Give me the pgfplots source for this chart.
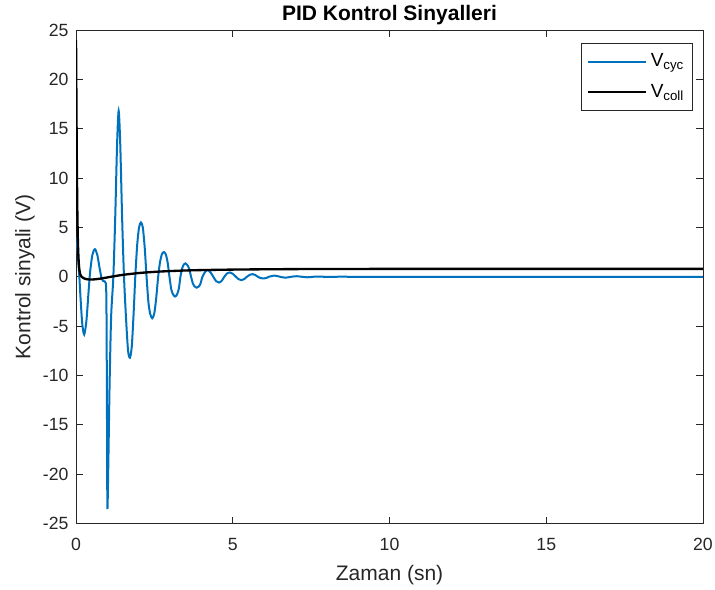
\documentclass[border=0pt]{standalone}
\usepackage{fontspec}
\setmainfont{Liberation Sans}
\usepackage{pgfplots}
\pgfplotsset{compat=1.18}
\usetikzlibrary{calc}
\definecolor{mblue}{rgb}{0,0.447,0.741}
\definecolor{axgray}{rgb}{0.15,0.15,0.15}
\begin{document}
\begin{tikzpicture}
\begin{axis}[
  name=ax,
  scale only axis,
  width=376pt, height=296pt,
  xmin=0, xmax=20, ymin=-25, ymax=25,
  xtick={0,5,10,15,20},
  ytick={-25,-20,...,25},
  tick align=inside,
  major tick length=4pt,
  axis line style={axgray, line width=0.5pt},
  tick style={axgray, line width=0.5pt},
  every tick label/.append style={font=\fontsize{10.6}{12}\selectfont, text=axgray},
  xticklabel style={yshift=-5.5pt},
  yticklabel style={xshift=-1pt},
  /pgf/number format/assume math mode=true,
  title={\bfseries PID Kontrol Sinyalleri},
  title style={font=\fontsize{12.6}{14}\selectfont, yshift=-6.5pt},
  xlabel={Zaman (sn)},
  ylabel={Kontrol sinyali (V)},
  label style={font=\fontsize{12.6}{14}\selectfont, text=axgray},
  xlabel style={yshift=-1.6pt},
  ylabel style={yshift=-2pt},
  legend style={at={(1,1)}, anchor=north east, xshift=-6pt, yshift=-8pt,
    draw=axgray, line width=0.5pt, font=\fontsize{11.4}{13}\selectfont,
    inner xsep=3pt, inner ysep=4pt, row sep=5pt},
  legend cell align=left,
  legend image code/.code={\draw[#1] (0pt,0pt) -- (35pt,0pt);},
]
% cyclic control signal
\addplot[mblue, line width=1.2pt, smooth, tension=0.45] coordinates {
(0,4) (0.05,2.5) (0.1,0.3) (0.15,-2.5) (0.2,-4.8) (0.26,-5.85) (0.33,-4.5)
(0.4,-1.5) (0.45,0.5) (0.52,2.2) (0.6,2.8) (0.68,2.2) (0.75,0.9) (0.82,-0.2)
(0.87,-0.45) (0.95,-0.65) (0.97,-3) (0.985,-12) (1.0,-23.4) (1.03,-19)
(1.07,-11) (1.12,-4) (1.19,0) (1.25,6) (1.31,13.5) (1.36,16.8) (1.41,13.5)
(1.47,6) (1.53,0) (1.6,-4.5) (1.66,-7.5) (1.72,-8.2) (1.78,-7.0) (1.84,-3.5)
(1.89,0) (1.95,3.2) (2.01,5.0) (2.07,5.5) (2.13,5.0) (2.19,3.0) (2.25,0)
(2.31,-2.6) (2.37,-3.8) (2.43,-4.2) (2.49,-3.8) (2.55,-2.4) (2.62,0)
(2.68,1.5) (2.74,2.3) (2.80,2.5) (2.86,2.3) (2.92,1.5) (2.98,0)
(3.04,-1.3) (3.10,-1.8) (3.16,-2.0) (3.22,-1.8) (3.28,-1.2) (3.33,0)
(3.39,0.9) (3.44,1.25) (3.49,1.36) (3.55,1.2) (3.61,0.8) (3.67,0)
(3.73,-0.7) (3.79,-1.0) (3.85,-1.1) (3.91,-1.0) (3.97,-0.7) (4.03,0)
(4.12,0.5) (4.2,0.68) (4.29,0.45) (4.38,0) (4.47,-0.45) (4.56,-0.58)
(4.65,-0.4) (4.73,0) (4.82,0.35) (4.91,0.44) (5.0,0.3) (5.1,0)
(5.19,-0.25) (5.28,-0.34) (5.37,-0.22) (5.45,0) (5.54,0.2) (5.63,0.27)
(5.72,0.18) (5.8,0) (5.89,-0.13) (5.98,-0.17) (6.07,-0.12) (6.15,0)
(6.33,0.12) (6.51,0) (6.68,-0.09) (6.86,0) (7.03,0.06) (7.21,0)
(7.38,-0.05) (7.56,0) (7.73,0.03) (7.91,0) (8.08,-0.02) (8.26,0)
(8.5,0.01) (9,0) (12,0) (16,0) (20,0)
};
\addlegendentry{V\textsubscript{cyc}}
% collective control signal
\addplot[black, line width=1.4pt, smooth, tension=0.4] coordinates {
(0,24) (0.02,14) (0.04,7) (0.06,3.5) (0.08,1.8) (0.1,0.9) (0.13,0.3)
(0.18,0) (0.25,-0.15) (0.35,-0.25) (0.5,-0.28) (0.7,-0.22) (0.9,-0.12)
(1.2,0.05) (1.5,0.2) (2,0.38) (2.5,0.5) (3,0.58) (3.5,0.64) (4,0.68)
(5,0.73) (6,0.76) (7,0.78) (8,0.79) (10,0.8) (15,0.8) (20,0.8)
};
\addlegendentry{V\textsubscript{coll}}
\end{axis}
% page frame around the axis box and its labels
\pgfresetboundingbox
\path ($(ax.south west)+(-45.6pt,-39.6pt)$) rectangle ($(ax.north east)+(7.2pt,18pt)$);
\end{tikzpicture}
\end{document}
